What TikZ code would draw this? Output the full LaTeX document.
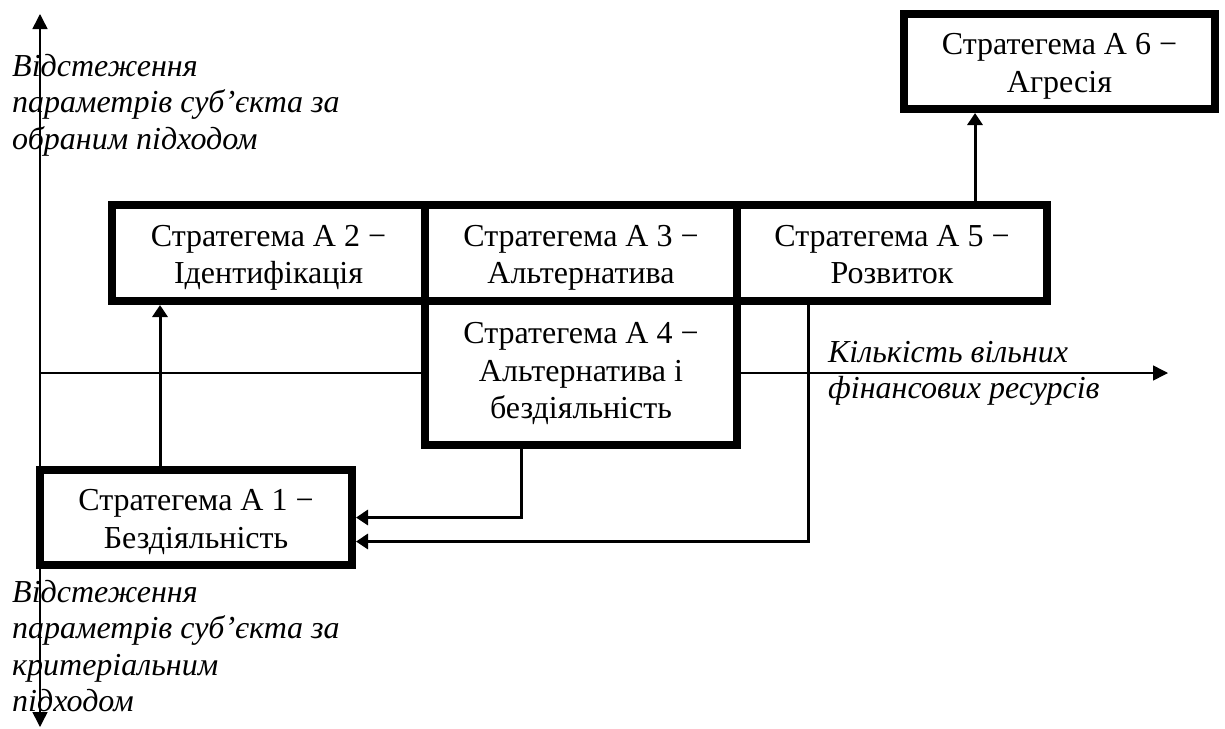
\documentclass[tikz,border=0pt]{standalone}
\usepackage{fontspec}
\setmainfont{Liberation Serif}
\usetikzlibrary{arrows.meta}

% first-line height and last-line depth struts, so every box centres its text alike
\newcommand{\bxtop}[1]{\rule{0pt}{#1}}
\newcommand{\bxbot}{\rule[-9pt]{0pt}{9pt}}

\begin{document}
\begin{tikzpicture}[x=1pt,y=-1pt,
  every node/.style={inner sep=0pt},
  stratbox/.style={draw=black, fill=white, line width=8pt, outer sep=4pt,
    rectangle, align=center, font=\fontsize{32}{37.5}\selectfont},
  axisline/.style={line width=1.5pt, {Triangle[length=15pt,width=15pt]}-{Triangle[length=15pt,width=15pt]}},
  axisarrow/.style={line width=1.5pt, -{Triangle[length=15pt,width=15pt]}},
  conn/.style={line width=3pt, -{Triangle[length=12pt,width=15pt]}},
  axislabel/.style={align=left, anchor=north west, font=\fontsize{32}{36.5}\selectfont\itshape}
]
\useasboundingbox (0,0) rectangle (1225,728);

% axes
\coordinate (ytop) at (40,14);
\coordinate (ybot) at (40,727);
\coordinate (xorg) at (40,373);
\coordinate (xend) at (1168,373);
\draw[axisline] (ybot) -- (ytop);
\draw[axisarrow] (xorg) -- (xend);

% axis labels
\node[axislabel] (ylabtop) at (12,54)
  {Відстеження\\параметрів суб’єкта за\\обраним підходом};
\node[axislabel] (ylabbot) at (12,580)
  {Відстеження\\параметрів суб’єкта за\\критеріальним\\підходом};
\node[axislabel] (xlab) at (828,341)
  {Кількість вільних\\фінансових ресурсів};

% strategy boxes
\node[stratbox, minimum width=313pt, minimum height=96pt] (a2) at (268.5,253)
  {\bxtop{33pt}Стратегема А 2 −\\Ідентифікація\bxbot};
\node[stratbox, minimum width=312pt, minimum height=96pt] (a3) at (581,253)
  {\bxtop{33pt}Стратегема А 3 −\\Альтернатива\bxbot};
\node[stratbox, minimum width=310pt, minimum height=96pt] (a5) at (892,253)
  {\bxtop{33pt}Стратегема А 5 −\\Розвиток\bxbot};
\node[stratbox, minimum width=312pt, minimum height=144pt] (a4) at (581,373)
  {\bxtop{25pt}Стратегема А 4 −\\Альтернатива і\\бездіяльність\bxbot};
\node[stratbox, minimum width=312pt, minimum height=95pt] (a1) at (196,517.5)
  {\bxtop{33pt}Стратегема А 1 −\\Бездіяльність\bxbot};
\node[stratbox, minimum width=311pt, minimum height=95pt] (a6) at (1059.5,61.5)
  {\bxtop{33pt}Стратегема А 6 −\\Агресія\bxbot};

% connector columns
\coordinate (c12) at (160,0);
\coordinate (c41) at (521,0);
\coordinate (c51) at (808,0);
\coordinate (c56) at (975,0);

% transitions
\draw[conn] (a1.north -| c12) -- (a2.south -| c12);
\draw[conn] (a5.north -| c56) -- (a6.south -| c56);
\draw[conn] (a4.south -| c41) |- (a1.east);
\draw[conn] (a5.south -| c51) |- ([yshift=-24pt]a1.east);
\end{tikzpicture}
\end{document}
